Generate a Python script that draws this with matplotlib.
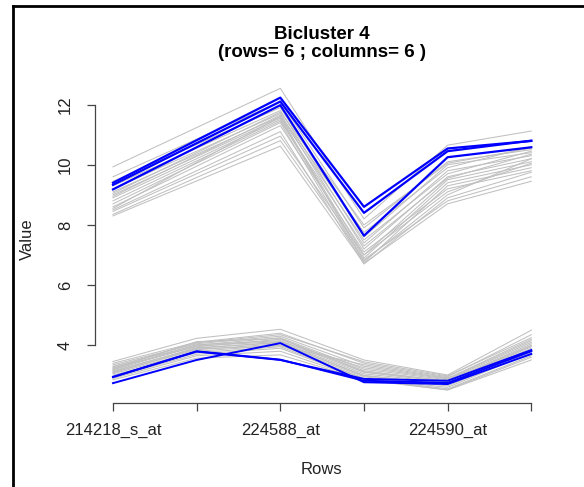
import matplotlib
matplotlib.use("Agg")
import matplotlib.pyplot as plt
from matplotlib.lines import Line2D

plt.rcParams['font.family'] = ['Liberation Sans', 'DejaVu Sans']

# rows of the bicluster (only every other name fits on the axis)
row_labels = ["214218_s_at", "", "224588_at", "", "224590_at", ""]
x_all = [1, 2, 3, 4, 5, 6]
x_upper = [1, 3, 4, 5, 6]

# upper group, other columns (grey)
grey_upper = [
    [9.93, 12.54, 8.20, 10.65, 11.12],
    [9.60, 12.10, 7.90, 10.10, 10.50],
    [9.45, 11.90, 7.60, 10.00, 10.40],
    [9.30, 11.80, 7.40, 9.80, 10.30],
    [9.20, 11.70, 7.20, 9.60, 10.20],
    [9.10, 11.60, 7.50, 9.70, 10.45],
    [9.00, 11.55, 7.00, 9.50, 10.10],
    [8.90, 11.50, 6.90, 9.40, 10.00],
    [8.80, 11.45, 7.30, 9.55, 10.35],
    [8.70, 11.40, 6.75, 9.30, 9.90],
    [8.60, 11.30, 7.10, 9.20, 9.80],
    [8.55, 11.60, 6.80, 9.00, 10.20],
    [8.50, 11.10, 6.70, 8.90, 9.75],
    [8.45, 10.95, 7.00, 9.10, 10.05],
    [8.35, 10.80, 6.85, 8.80, 9.60],
    [8.30, 10.62, 6.72, 8.70, 9.45],
    [9.05, 11.75, 8.00, 10.05, 10.55],
    [8.95, 11.65, 7.75, 9.90, 10.60],
]
# upper group, bicluster columns (blue)
blue_upper = [
    [9.40, 12.23, 8.60, 10.54, 10.79],
    [9.33, 12.10, 8.40, 10.45, 10.80],
    [9.18, 11.98, 7.64, 10.25, 10.58],
]

# lower group, other columns (grey)
grey_lower = [
    [3.46, 4.23, 4.53, 3.51, 3.01, 4.50],
    [3.40, 4.10, 4.40, 3.40, 2.95, 4.35],
    [3.35, 4.05, 4.30, 3.30, 2.90, 4.20],
    [3.30, 4.00, 4.25, 3.20, 2.85, 4.10],
    [3.25, 3.95, 4.20, 3.15, 2.80, 4.05],
    [3.20, 4.02, 4.15, 3.10, 2.78, 4.00],
    [3.15, 3.90, 4.10, 3.05, 2.75, 3.95],
    [3.10, 3.85, 4.05, 3.00, 2.70, 3.90],
    [3.05, 3.80, 4.00, 2.95, 2.65, 3.80],
    [3.00, 3.75, 3.95, 2.90, 2.60, 3.75],
    [2.95, 3.70, 3.90, 2.88, 2.55, 3.65],
    [2.90, 3.65, 3.80, 2.86, 2.52, 3.60],
    [2.85, 3.57, 3.68, 2.85, 2.51, 3.51],
    [3.28, 4.08, 4.35, 3.45, 2.98, 4.25],
    [3.18, 3.98, 4.12, 3.25, 2.88, 4.15],
    [3.12, 3.92, 4.08, 2.98, 2.72, 3.85],
    [3.22, 4.12, 4.22, 3.12, 2.82, 3.98],
    [3.08, 3.88, 3.98, 3.35, 2.92, 3.70],
]
# lower group, bicluster columns (blue)
blue_lower = [
    [2.94, 3.79, 3.51, 2.88, 2.82, 3.84],
    [2.95, 3.80, 3.52, 2.82, 2.75, 3.80],
    [2.74, 3.51, 4.07, 2.77, 2.71, 3.71],
]

y_ticks = [4, 6, 8, 10, 12]

fig = plt.figure(figsize=(5.84, 4.87), dpi=100)
ax = fig.add_axes([0.1627, 0.1725, 0.7757, 0.6715])

for ys in grey_upper:
    ax.plot(x_upper, ys, color="#c0c0c0", linewidth=0.75)
for ys in grey_lower:
    ax.plot(x_all, ys, color="#c0c0c0", linewidth=0.75)
for ys in blue_upper:
    ax.plot(x_upper, ys, color="#0000ff", linewidth=1.6)
for ys in blue_lower:
    ax.plot(x_all, ys, color="#0000ff", linewidth=1.4)

ax.set_xlim(0.785, 6.2)
ax.set_ylim(2.08, 12.95)

for side in ["top", "right"]:
    ax.spines[side].set_visible(False)
ax.spines["left"].set_bounds(4, 12)
ax.spines["bottom"].set_bounds(1, 6)
for side in ["left", "bottom"]:
    ax.spines[side].set_color("#444444")
    ax.spines[side].set_linewidth(0.9)

ax.set_xticks(x_all)
ax.set_xticklabels(row_labels, fontsize=12, color="#222222")
ax.set_yticks(y_ticks)
ax.set_yticklabels([str(v) for v in y_ticks], fontsize=12, color="#222222",
                   rotation=90, va="center")
ax.tick_params(axis="x", length=6, width=0.9, color="#444444", pad=8)
ax.tick_params(axis="y", length=6, width=0.9, color="#444444", pad=10)

ax.set_xlabel("Rows", fontsize=12, color="#222222")
ax.xaxis.set_label_coords(0.5, -0.18)
ax.set_ylabel("Value", fontsize=12, color="#222222", va="center")
ax.yaxis.set_label_coords(-0.15, 0.5)

fig.text(0.551, 1 - 26 / 487, "Bicluster 4\n(rows= 6 ; columns= 6 )",
         ha="center", va="top", fontsize=13.5, fontweight="bold",
         linespacing=1.05)

# frame around the picture
fig.add_artist(Line2D([13 / 584, 13 / 584], [0, 1 - 6 / 487],
                      transform=fig.transFigure, color="black", linewidth=2))
fig.add_artist(Line2D([13 / 584, 1], [1 - 6 / 487, 1 - 6 / 487],
                      transform=fig.transFigure, color="black", linewidth=2))

fig.savefig("out.png", dpi=100)
